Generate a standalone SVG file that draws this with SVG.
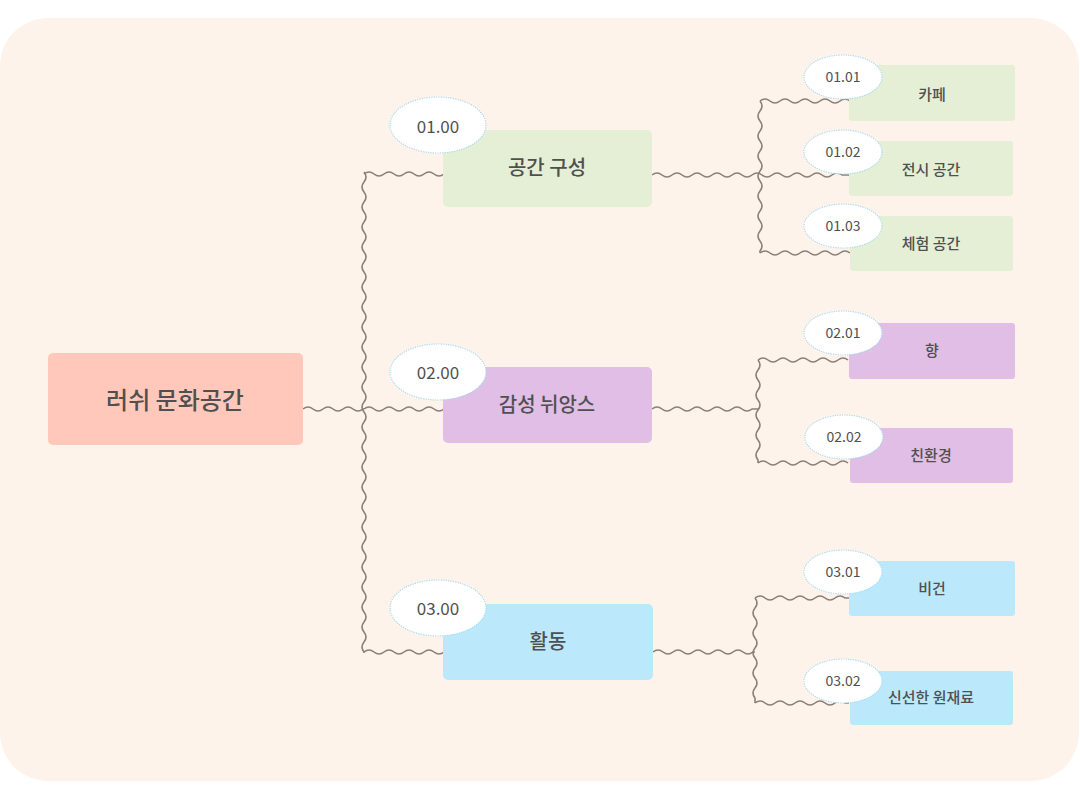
<svg xmlns="http://www.w3.org/2000/svg" width="1080" height="793" viewBox="0 0 1080 793">
<style>
.t{font-family:"Noto Sans CJK KR","Noto Sans",sans-serif;font-weight:500;fill:#505050;text-anchor:middle;dominant-baseline:central}
.n{font-weight:400}
.w{fill:none;stroke:#8b8079;stroke-width:1.6}
.e{fill:#fff;stroke:#a6dcf4;stroke-width:1.2;stroke-dasharray:1.2 1.2}
.g{fill:#e4efd6}.p{fill:#e0bee5}.b{fill:#bce8fc}
</style>
<rect x="0" y="0" width="1080" height="793" fill="#fff"/>
<rect x="0" y="18" width="1079" height="763" rx="48" fill="#fef3ea"/>
<g id="connectors">
<path class="w" d="M303 409 q5 -4 10 0 t10 0 t10 0 t10 0 t10 0 t10 0 L364 409"/>
<path class="w" d="M364 172 q4 5 0 10 t0 10 t0 10 t0 10 t0 10 t0 10 t0 10 t0 10 t0 10 t0 10 t0 10 t0 10 t0 10 t0 10 t0 10 t0 10 t0 10 t0 10 t0 10 t0 10 t0 10 t0 10 t0 10 t0 10 t0 10 t0 10 t0 10 t0 10 t0 10 t0 10 t0 10 t0 10 t0 10 t0 10 t0 10 t0 10 t0 10 t0 10 t0 10 t0 10 t0 10 t0 10 t0 10 t0 10 t0 10 t0 10 t0 10 t0 10 L364 653"/>
<path class="w" d="M364 174 q5 -4 10 0 t10 0 t10 0 t10 0 t10 0 t10 0 t10 0 t10 0"/>
<path class="w" d="M364 409 q5 -4 10 0 t10 0 t10 0 t10 0 t10 0 t10 0 t10 0 t10 0"/>
<path class="w" d="M364 652 q5 -4 10 0 t10 0 t10 0 t10 0 t10 0 t10 0 t10 0 t10 0"/>
<path class="w" d="M652 175 q5 -4 10 0 t10 0 t10 0 t10 0 t10 0 t10 0 t10 0 t10 0 t10 0 t10 0 t10 0 t10 0 t10 0 t10 0 t10 0 t10 0 t10 0 t10 0 t10 0 L849 175"/>
<path class="w" d="M760 101 q4 5 0 10 t0 10 t0 10 t0 10 t0 10 t0 10 t0 10 t0 10 t0 10 t0 10 t0 10 t0 10 t0 10 t0 10 t0 10 L760 253"/>
<path class="w" d="M760 101 q5 -4 10 0 t10 0 t10 0 t10 0 t10 0 t10 0 t10 0 t10 0 t10 0"/>
<path class="w" d="M760 253 q5 -4 10 0 t10 0 t10 0 t10 0 t10 0 t10 0 t10 0 t10 0 t10 0"/>
<path class="w" d="M652 409 q5 -4 10 0 t10 0 t10 0 t10 0 t10 0 t10 0 t10 0 t10 0 t10 0 t10 0 L758 409"/>
<path class="w" d="M758 360 q4 5 0 10 t0 10 t0 10 t0 10 t0 10 t0 10 t0 10 t0 10 t0 10 t0 10 L758 463"/>
<path class="w" d="M758 360 q5 -4 10 0 t10 0 t10 0 t10 0 t10 0 t10 0 t10 0 t10 0 t10 0"/>
<path class="w" d="M758 463 q5 -4 10 0 t10 0 t10 0 t10 0 t10 0 t10 0 t10 0 t10 0 t10 0"/>
<path class="w" d="M653 652 q5 -4 10 0 t10 0 t10 0 t10 0 t10 0 t10 0 t10 0 t10 0 t10 0 t10 0 L755 652"/>
<path class="w" d="M755 598 q4 5 0 10 t0 10 t0 10 t0 10 t0 10 t0 10 t0 10 t0 10 t0 10 t0 10 L755 703"/>
<path class="w" d="M755 598 q5 -4 10 0 t10 0 t10 0 t10 0 t10 0 t10 0 t10 0 t10 0 t10 0 L849 598"/>
<path class="w" d="M755 703 q5 -4 10 0 t10 0 t10 0 t10 0 t10 0 t10 0 t10 0 t10 0 t10 0 L849 703"/>
</g>
<g id="root">
<rect x="48" y="353" width="255" height="92" rx="5" fill="#ffc8ba"/>
<text class="t" x="175" y="398" font-size="24">러쉬 문화공간</text>
</g>
<g id="n1">
<rect class="g" x="443" y="130" width="209" height="77" rx="5"/>
<text class="t" x="547" y="166" font-size="20">공간 구성</text>
<ellipse class="e" cx="438" cy="125" rx="48" ry="28"/>
<text class="t n" x="438" y="125" font-size="17">01.00</text>
</g>
<g id="n2">
<rect class="p" x="443" y="367" width="209" height="76" rx="5"/>
<text class="t" x="547" y="403" font-size="20">감성 뉘앙스</text>
<ellipse class="e" cx="438" cy="372" rx="48" ry="28"/>
<text class="t n" x="438" y="371" font-size="17">02.00</text>
</g>
<g id="n3">
<rect class="b" x="443" y="604" width="210" height="76" rx="5"/>
<text class="t" x="548" y="640" font-size="20">활동</text>
<ellipse class="e" cx="438" cy="608" rx="48" ry="28"/>
<text class="t n" x="438" y="607" font-size="17">03.00</text>
</g>
<g id="n11">
<rect class="g" x="849" y="65" width="166" height="56" rx="3"/>
<text class="t" x="932" y="93" font-size="15">카페</text>
<ellipse class="e" cx="843" cy="77" rx="39" ry="22"/>
<text class="t n" x="843" y="76" font-size="14">01.01</text>
</g>
<g id="n12">
<rect class="g" x="849" y="141" width="164" height="55" rx="3"/>
<text class="t" x="931" y="168" font-size="15">전시 공간</text>
<ellipse class="e" cx="843" cy="152" rx="39" ry="22"/>
<text class="t n" x="843" y="151" font-size="14">01.02</text>
</g>
<g id="n13">
<rect class="g" x="850" y="216" width="163" height="55" rx="3"/>
<text class="t" x="931" y="242" font-size="15">체험 공간</text>
<ellipse class="e" cx="843" cy="226" rx="39" ry="22"/>
<text class="t n" x="843" y="225" font-size="14">01.03</text>
</g>
<g id="n21">
<rect class="p" x="849" y="323" width="166" height="56" rx="3"/>
<text class="t" x="932" y="349" font-size="15">향</text>
<ellipse class="e" cx="843" cy="333" rx="39" ry="22"/>
<text class="t n" x="843" y="332" font-size="14">02.01</text>
</g>
<g id="n22">
<rect class="p" x="850" y="428" width="163" height="55" rx="3"/>
<text class="t" x="931" y="454" font-size="15">친환경</text>
<ellipse class="e" cx="844" cy="437" rx="39" ry="22"/>
<text class="t n" x="844" y="436" font-size="14">02.02</text>
</g>
<g id="n31">
<rect class="b" x="849" y="561" width="166" height="55" rx="3"/>
<text class="t" x="932" y="587" font-size="15">비건</text>
<ellipse class="e" cx="843" cy="572" rx="39" ry="22"/>
<text class="t n" x="843" y="571" font-size="14">03.01</text>
</g>
<g id="n32">
<rect class="b" x="850" y="671" width="163" height="54" rx="3"/>
<text class="t" x="931" y="696" font-size="15">신선한 원재료</text>
<ellipse class="e" cx="843" cy="681" rx="39" ry="22"/>
<text class="t n" x="843" y="680" font-size="14">03.02</text>
</g>
</svg>
